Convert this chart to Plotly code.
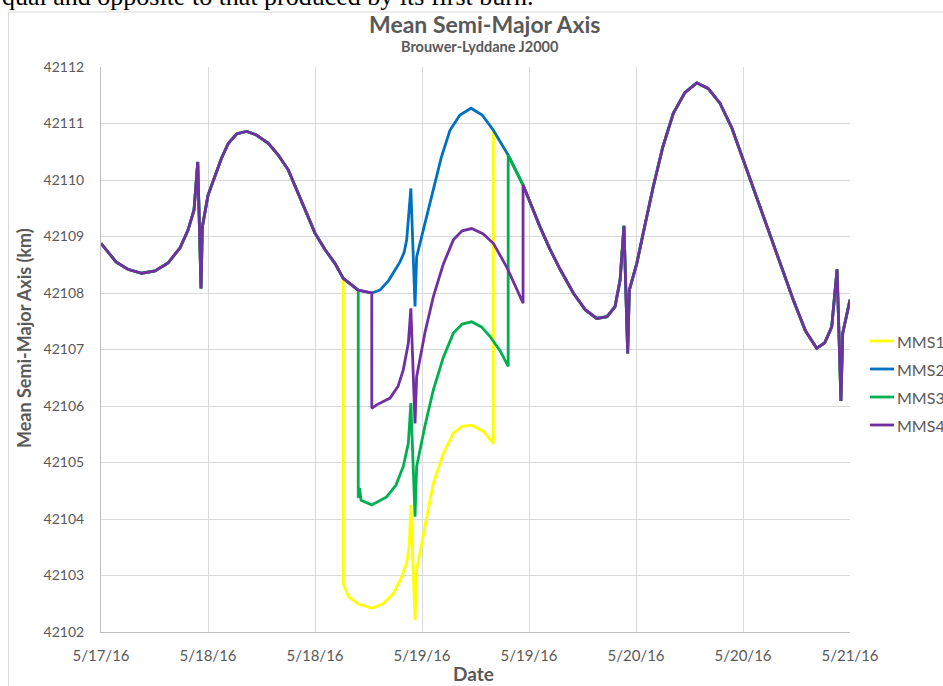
import pandas as pd
import plotly.graph_objects as go

# ---- data ----
series_names = ["MMS1", "MMS2", "MMS3", "MMS4"]

base_time = [
    "2016-05-17 12:00", "2016-05-17 13:41", "2016-05-17 15:00", "2016-05-17 16:34",
    "2016-05-17 18:04", "2016-05-17 19:31", "2016-05-17 20:52", "2016-05-17 21:45",
    "2016-05-17 22:26", "2016-05-17 22:51", "2016-05-17 23:13", "2016-05-17 23:22",
    "2016-05-18 00:00", "2016-05-18 00:47", "2016-05-18 01:30", "2016-05-18 02:17",
    "2016-05-18 03:15", "2016-05-18 04:20", "2016-05-18 05:23", "2016-05-18 06:46",
    "2016-05-18 07:50", "2016-05-18 09:00", "2016-05-18 10:32", "2016-05-18 12:00",
    "2016-05-18 13:07", "2016-05-18 14:15", "2016-05-18 15:10", "2016-05-18 16:51",
    "2016-05-18 18:22", "2016-05-18 19:17", "2016-05-18 20:15", "2016-05-18 20:58",
    "2016-05-18 21:32", "2016-05-18 22:00", "2016-05-18 22:17", "2016-05-18 22:45",
    "2016-05-18 23:13", "2016-05-18 23:24", "2016-05-19 00:20", "2016-05-19 01:16",
    "2016-05-19 02:10", "2016-05-19 03:08", "2016-05-19 04:15", "2016-05-19 05:30",
    "2016-05-19 06:45", "2016-05-19 08:00", "2016-05-19 09:40", "2016-05-19 11:20",
    "2016-05-19 12:15", "2016-05-19 13:14", "2016-05-19 14:20", "2016-05-19 15:29",
    "2016-05-19 16:58", "2016-05-19 18:20", "2016-05-19 19:36", "2016-05-19 20:45",
    "2016-05-19 21:39", "2016-05-19 22:13", "2016-05-19 22:39", "2016-05-19 23:04",
    "2016-05-19 23:15", "2016-05-20 00:05", "2016-05-20 01:00", "2016-05-20 01:56",
    "2016-05-20 03:00", "2016-05-20 04:11", "2016-05-20 05:30", "2016-05-20 06:49",
    "2016-05-20 08:05", "2016-05-20 09:25", "2016-05-20 10:45", "2016-05-20 12:02",
    "2016-05-20 13:20", "2016-05-20 14:40", "2016-05-20 16:10", "2016-05-20 17:38",
    "2016-05-20 19:00", "2016-05-20 20:16", "2016-05-20 21:10", "2016-05-20 21:57",
    "2016-05-20 22:33", "2016-05-20 22:59", "2016-05-20 23:11", "2016-05-21 00:00",
]
base_sma = [
    42108.88, 42108.55, 42108.42, 42108.35,
    42108.39, 42108.53, 42108.80, 42109.11,
    42109.47, 42110.32, 42108.08, 42109.17,
    42109.73, 42110.06, 42110.38, 42110.65,
    42110.82, 42110.86, 42110.80, 42110.65,
    42110.45, 42110.18, 42109.60, 42109.06,
    42108.77, 42108.52, 42108.26, 42108.05,
    42108.00, 42108.05, 42108.22, 42108.40,
    42108.55, 42108.72, 42108.94, 42109.85,
    42107.76, 42108.64, 42109.25, 42109.82,
    42110.40, 42110.88, 42111.15, 42111.27,
    42111.15, 42110.88, 42110.44, 42109.91,
    42109.55, 42109.17, 42108.78, 42108.42,
    42108.00, 42107.70, 42107.55, 42107.58,
    42107.76, 42108.23, 42109.19, 42106.93,
    42108.05, 42108.52, 42109.20, 42109.88,
    42110.58, 42111.18, 42111.55, 42111.72,
    42111.62, 42111.36, 42110.92, 42110.35,
    42109.78, 42109.17, 42108.50, 42107.88,
    42107.33, 42107.02, 42107.12, 42107.40,
    42108.42, 42106.09, 42107.29, 42107.88,
]

mms1_seg_time = [
    "2016-05-18 15:10", "2016-05-18 15:44", "2016-05-18 16:49", "2016-05-18 18:22",
    "2016-05-18 19:38", "2016-05-18 20:47", "2016-05-18 21:39", "2016-05-18 22:17",
    "2016-05-18 22:35", "2016-05-18 22:45", "2016-05-18 23:13", "2016-05-18 23:24",
    "2016-05-19 00:20", "2016-05-19 01:16", "2016-05-19 02:22", "2016-05-19 03:31",
    "2016-05-19 04:30", "2016-05-19 05:34", "2016-05-19 06:53", "2016-05-19 08:00",
]
mms1_seg_sma = [
    42102.86, 42102.63, 42102.50, 42102.42,
    42102.50, 42102.68, 42102.95, 42103.22,
    42103.55, 42104.25, 42102.21, 42103.10,
    42103.90, 42104.63, 42105.15, 42105.52,
    42105.64, 42105.66, 42105.55, 42105.34,
]

mms3_seg_time = [
    "2016-05-18 16:51", "2016-05-18 17:00", "2016-05-18 17:10", "2016-05-18 18:22",
    "2016-05-18 20:02", "2016-05-18 21:05", "2016-05-18 21:54", "2016-05-18 22:28",
    "2016-05-18 22:45", "2016-05-18 23:13", "2016-05-18 23:24", "2016-05-19 00:20",
    "2016-05-19 01:16", "2016-05-19 02:22", "2016-05-19 03:31", "2016-05-19 04:30",
    "2016-05-19 05:34", "2016-05-19 06:40", "2016-05-19 07:38", "2016-05-19 08:45",
    "2016-05-19 09:40",
]
mms3_seg_sma = [
    42104.37, 42104.55, 42104.33, 42104.25,
    42104.39, 42104.60, 42104.93, 42105.34,
    42106.05, 42104.04, 42104.93, 42105.65,
    42106.28, 42106.85, 42107.29, 42107.45,
    42107.49, 42107.40, 42107.23, 42106.98,
    42106.70,
]

mms4_seg_time = [
    "2016-05-18 18:22", "2016-05-18 18:55", "2016-05-18 20:25", "2016-05-18 21:19",
    "2016-05-18 21:54", "2016-05-18 22:28", "2016-05-18 22:45", "2016-05-18 23:13",
    "2016-05-18 23:24", "2016-05-19 00:20", "2016-05-19 01:16", "2016-05-19 02:22",
    "2016-05-19 03:31", "2016-05-19 04:30", "2016-05-19 05:34", "2016-05-19 06:50",
    "2016-05-19 08:00", "2016-05-19 09:30", "2016-05-19 11:20",
]
mms4_seg_sma = [
    42105.96, 42106.02, 42106.14, 42106.35,
    42106.64, 42107.11, 42107.73, 42105.69,
    42106.52, 42107.30, 42107.93, 42108.50,
    42108.94, 42109.10, 42109.14, 42109.05,
    42108.88, 42108.46, 42107.82,
]

y_ticks = [42102, 42103, 42104, 42105, 42106, 42107, 42108, 42109, 42110, 42111, 42112]

# ---- build series ----
bt = pd.to_datetime(base_time)


def splice(seg_time, seg_sma):
    st = pd.to_datetime(seg_time)
    t0, t1 = st[0], st[-1]
    xs, ys = [], []
    for t, v in zip(bt, base_sma):
        if t <= t0:
            xs.append(t); ys.append(v)
    xs += list(st); ys += list(seg_sma)
    for t, v in zip(bt, base_sma):
        if t >= t1:
            xs.append(t); ys.append(v)
    return xs, ys


data = {
    "MMS1": splice(mms1_seg_time, mms1_seg_sma),
    "MMS2": (list(bt), list(base_sma)),
    "MMS3": splice(mms3_seg_time, mms3_seg_sma),
    "MMS4": splice(mms4_seg_time, mms4_seg_sma),
}
colors = {"MMS1": "#FFFF00", "MMS2": "#0070C0", "MMS3": "#00B050", "MMS4": "#7030A0"}

GRAY = "#595959"
FONT = "Lato"

# page layout: plot area spans x 101..850, y 67..632
def px(xp):
    return (xp - 101) / 749


def py(yp):
    return (632 - yp) / 565


fig = go.Figure()
for name in series_names:
    xs, ys = data[name]
    fig.add_trace(go.Scatter(
        x=xs, y=ys, mode="lines", name=name, showlegend=False,
        line=dict(color=colors[name], width=2.8),
    ))

annotations = [
    dict(text="<b>Mean Semi-Major Axis</b>", x=px(484), y=py(24),
         xanchor="center", yanchor="middle",
         font=dict(size=23, color=GRAY, family=FONT)),
    dict(text="<b>Brouwer-Lyddane J2000</b>", x=px(480), y=py(47),
         xanchor="center", yanchor="middle",
         font=dict(size=14.5, color=GRAY, family=FONT)),
    dict(text="qual and opposite to that produced by its first burn.",
         x=px(0), y=py(-4), xanchor="left", yanchor="middle",
         font=dict(size=26, color="black", family="Liberation Serif")),
    dict(text="<b>Mean Semi-Major Axis (km)</b>", x=px(24), y=py(338),
         xanchor="center", yanchor="middle", textangle=-90,
         font=dict(size=18, color=GRAY, family=FONT)),
    dict(text="<b>Date</b>", x=px(473), y=py(673),
         xanchor="center", yanchor="middle",
         font=dict(size=19, color=GRAY, family=FONT)),
]
shapes = [
    dict(type="line", x0=px(8.5), x1=px(8.5), y0=py(686), y1=py(12),
         line=dict(color="#D9D9D9", width=1), layer="below"),
    dict(type="line", x0=px(8.5), x1=px(943), y0=py(12), y1=py(12),
         line=dict(color="#D9D9D9", width=1), layer="below"),
]
# manual legend (keeps the plot area fixed)
legend_y = [341, 369, 397, 425]
for name, ly in zip(series_names, legend_y):
    shapes.append(dict(type="line", x0=px(870), x1=px(894), y0=py(ly), y1=py(ly),
                       line=dict(color=colors[name], width=2.8)))
    annotations.append(dict(text=name, x=px(895), y=py(ly), xanchor="left",
                            yanchor="middle", font=dict(size=16, color=GRAY, family=FONT)))

for a in annotations:
    a.update(xref="paper", yref="paper", showarrow=False)
for s in shapes:
    s.update(xref="paper", yref="paper")

fig.update_layout(
    width=943, height=686,
    margin=dict(l=101, r=93, t=67, b=54, autoexpand=False),
    paper_bgcolor="white", plot_bgcolor="white",
    font=dict(family=FONT, color=GRAY, size=14),
    showlegend=False,
    annotations=annotations,
    shapes=shapes,
)

fig.update_xaxes(
    type="date", automargin=False,
    range=["2016-05-17 12:00", "2016-05-21 00:00"],
    tick0="2016-05-17 12:00", dtick=12 * 3600 * 1000,
    tickformat="%-m/%-d/%y",
    showgrid=True, gridcolor="#D9D9D9", gridwidth=1,
    showline=True, linecolor="#BFBFBF", linewidth=1,
    ticks="", ticklabelstandoff=10, tickfont=dict(size=15, color=GRAY),
)
fig.update_yaxes(
    range=[42102, 42112], tickvals=y_ticks, automargin=False,
    ticktext=[str(v) for v in y_ticks],
    showgrid=True, gridcolor="#D9D9D9", gridwidth=1,
    showline=True, linecolor="#BFBFBF", linewidth=1,
    zeroline=False, ticks="", ticklabelstandoff=13,
    tickfont=dict(size=14, color=GRAY),
)

# remove the browser's default 8px body margin so the figure sits at the page corner
fig.write_html("out.html", config={"displayModeBar": False},
               post_script="document.body.style.margin='0';")
